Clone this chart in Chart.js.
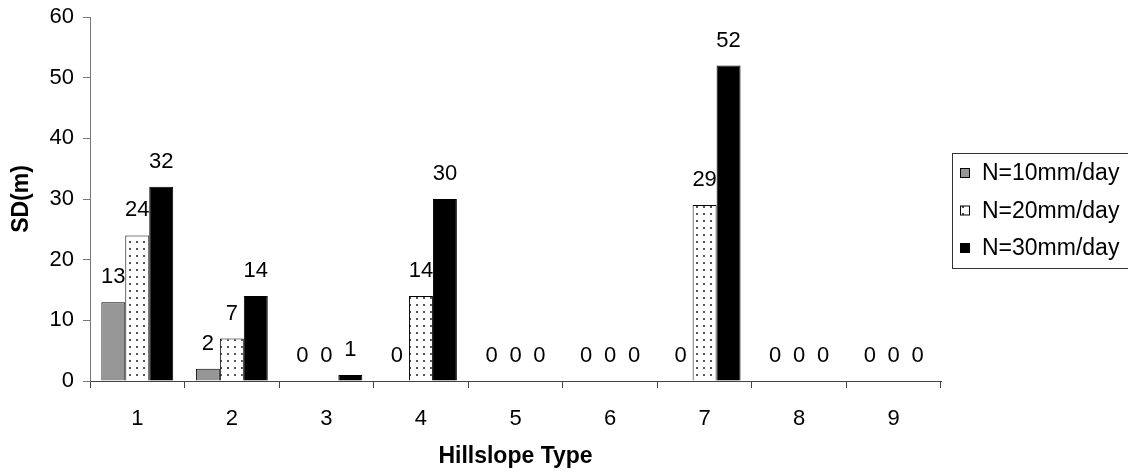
<!DOCTYPE html>
<html>
<head>
<meta charset="utf-8">
<script src="https://cdn.jsdelivr.net/npm/chart.js@4.4.1/dist/chart.umd.min.js"></script>
<style>
  html, body { margin: 0; padding: 0; background: #fff; }
  #wrap { width: 1128px; height: 472px; }
</style>
</head>
<body>
<div id="wrap"><canvas id="chart" width="1128" height="472"></canvas></div>
<script>
// data
const categories = ["1", "2", "3", "4", "5", "6", "7", "8", "9"];
const n10 = [13, 2, 0, 0, 0, 0, 0, 0, 0];
const n20 = [24, 7, 0, 14, 0, 0, 29, 0, 0];
const n30 = [32, 14, 1, 30, 0, 0, 52, 0, 0];
const seriesNames = ["N=10mm/day", "N=20mm/day", "N=30mm/day"];
const yTicks = [0, 10, 20, 30, 40, 50, 60];

const FONT = "Arial, 'Liberation Sans', sans-serif";

// dotted fill like the excel pattern
function dotPattern() {
  const c = document.createElement("canvas");
  c.width = 7;
  c.height = 7;
  const ctx = c.getContext("2d");
  ctx.fillStyle = "#fff";
  ctx.fillRect(0, 0, 7, 7);
  ctx.fillStyle = "#555";
  ctx.fillRect(3, 3, 2, 2);
  return ctx.createPattern(c, "repeat");
}
const dots = dotPattern();

// value labels above each bar
const valueLabels = {
  id: "valueLabels",
  afterDatasetsDraw(chart) {
    const ctx = chart.ctx;
    ctx.save();
    ctx.font = "22px " + FONT;
    ctx.fillStyle = "#000";
    ctx.textAlign = "center";
    ctx.textBaseline = "middle";
    chart.data.datasets.forEach((ds, i) => {
      chart.getDatasetMeta(i).data.forEach((bar, j) => {
        ctx.fillText(String(ds.data[j]), bar.x, bar.y - 25);
      });
    });
    ctx.restore();
  },
};

// boxed legend on the right
const boxLegend = {
  id: "boxLegend",
  afterDraw(chart) {
    const ctx = chart.ctx;
    ctx.save();
    ctx.strokeStyle = "#333";
    ctx.lineWidth = 1;
    ctx.strokeRect(952.5, 153.5, 200, 115);
    ctx.font = "23px " + FONT;
    ctx.textBaseline = "middle";
    ctx.textAlign = "left";
    chart.data.datasets.forEach((ds, i) => {
      const y = 173 + i * 37.5;
      ctx.fillStyle = ds.backgroundColor;
      ctx.fillRect(960, y - 5, 10, 10);
      ctx.strokeStyle = "#000";
      ctx.strokeRect(960.5, y - 4.5, 9, 9);
      ctx.fillStyle = "#000";
      ctx.fillText(ds.label, 982, y + 1);
    });
    ctx.restore();
  },
};

new Chart(document.getElementById("chart"), {
  type: "bar",
  data: {
    labels: categories,
    datasets: [
      { label: seriesNames[0], data: n10, backgroundColor: "#969696", borderColor: "#000", borderWidth: 1 },
      { label: seriesNames[1], data: n20, backgroundColor: dots, borderColor: "#000", borderWidth: 1 },
      { label: seriesNames[2], data: n30, backgroundColor: "#000", borderColor: "#000", borderWidth: 1 },
    ],
  },
  options: {
    responsive: false,
    animation: false,
    events: [],
    layout: { padding: { left: 4, right: 187, top: 17, bottom: 0 } },
    datasets: { bar: { categoryPercentage: 0.76, barPercentage: 1 } },
    plugins: { legend: { display: false }, tooltip: { enabled: false } },
    scales: {
      x: {
        grid: { drawOnChartArea: false, tickLength: 7, color: "#444", offset: true },
        border: { color: "#444" },
        ticks: { color: "#000", font: { size: 22, family: FONT }, padding: 18 },
        title: {
          display: true,
          text: "Hillslope Type",
          color: "#000",
          font: { size: 23, weight: "bold", family: FONT },
          padding: { top: 0, bottom: 2 },
        },
        afterFit(scale) {
          scale.height = 91;
          scale.paddingLeft = 0;
          scale.paddingRight = 0;
        },
      },
      y: {
        min: 0,
        max: 60,
        afterBuildTicks(scale) { scale.ticks = yTicks.map((v) => ({ value: v })); },
        grid: { drawOnChartArea: false, tickLength: 7, color: "#777" },
        border: { color: "#777" },
        ticks: { color: "#000", font: { size: 22, family: FONT }, padding: 9 },
        title: {
          display: true,
          text: "SD(m)",
          color: "#000",
          font: { size: 23, weight: "bold", family: FONT },
          padding: { top: 4, bottom: 4 },
        },
        afterFit(scale) {
          scale.width = 86;
          scale.paddingTop = 0;
          scale.paddingBottom = 0;
        },
      },
    },
  },
  plugins: [valueLabels, boxLegend],
});
</script>
</body>
</html>
